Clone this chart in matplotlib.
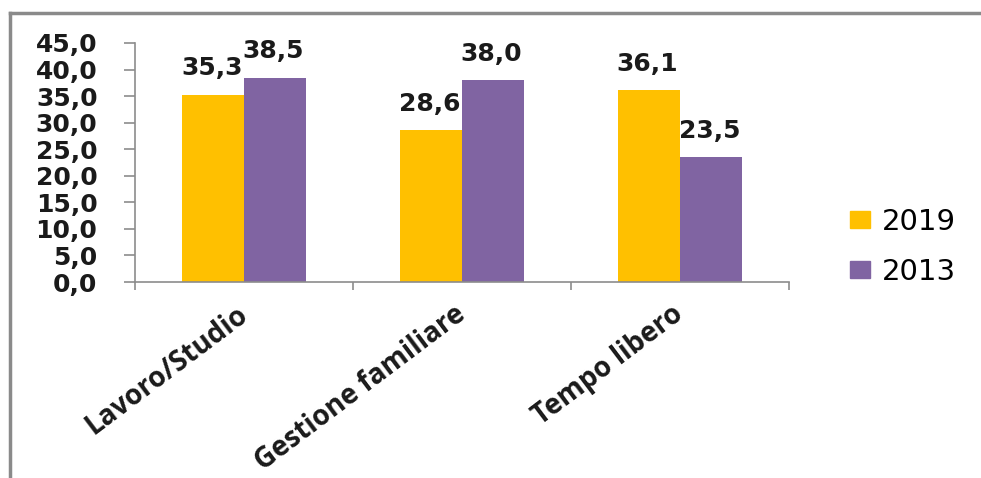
import matplotlib
matplotlib.use("Agg")
import matplotlib.pyplot as plt
import matplotlib.transforms as mtransforms
from matplotlib.lines import Line2D
from matplotlib.patches import Patch
import numpy as np

categories = ["Lavoro/Studio", "Gestione familiare", "Tempo libero"]
series_names = ["2019", "2013"]
values_2019 = [35.3, 28.6, 36.1]
values_2013 = [38.5, 38.0, 23.5]
yticks = [0, 5, 10, 15, 20, 25, 30, 35, 40, 45]
colors = ["#FFC000", "#8064A2"]

W, H = 981, 478
fig = plt.figure(figsize=(W / 100, H / 100), dpi=100)
ax = fig.add_axes([135 / W, 1 - 282 / H, (789 - 135) / W, (282 - 43) / H])

x = np.arange(len(categories))
bw = 0.284
b1 = ax.bar(x - bw / 2, values_2019, bw, color=colors[0], zorder=2)
b2 = ax.bar(x + bw / 2, values_2013, bw, color=colors[1], zorder=2)

for bars, vals in ((b1, values_2019), (b2, values_2013)):
    for rect, v in zip(bars, vals):
        ax.annotate(f"{v:.1f}".replace(".", ","),
                    (rect.get_x() + rect.get_width() / 2, v),
                    xytext=(-1, 19), textcoords="offset points",
                    ha="center", va="center", fontsize=18, fontweight="bold",
                    family="DejaVu Sans", color="#1a1a1a")

ax.set_xlim(-0.5, len(categories) - 0.5)
ax.set_ylim(0, 45)
ax.set_yticks(yticks)
ax.set_yticklabels([f"{t:.1f}".replace(".", ",") for t in yticks],
                   fontsize=18, fontweight="bold", family="DejaVu Sans", color="#1a1a1a")
ax.tick_params(axis="y", direction="out", length=8, width=1.2, color="#8c8c8c", pad=19)

ax.set_xticks(np.arange(-0.5, len(categories), 1.0))
ax.set_xticklabels([])
ax.tick_params(axis="x", direction="out", length=6, width=1.2, color="#8c8c8c")
ax.set_xticks(x, minor=True)
ax.set_xticklabels(categories, minor=True, rotation=37, ha="right", va="top",
                   rotation_mode="anchor", fontsize=20, fontweight="bold",
                   family="Open Sans", color="#1a1a1a")
ax.tick_params(axis="x", which="minor", length=0, pad=13)
shift = mtransforms.ScaledTranslation(-6 / 72, 0, fig.dpi_scale_trans)
for lbl in ax.get_xticklabels(minor=True):
    lbl.set_transform(lbl.get_transform() + shift)

for s in ("top", "right"):
    ax.spines[s].set_visible(False)
for s in ("left", "bottom"):
    ax.spines[s].set_color("#8c8c8c")
    ax.spines[s].set_linewidth(1.2)

handles = [Patch(facecolor=c, edgecolor=c) for c in colors]
fig.legend(handles, series_names, loc="center left",
           bbox_to_anchor=(850 / W, 1 - 247 / H), frameon=False,
           handlelength=0.7, handleheight=0.5, borderaxespad=0,
           handletextpad=0.4, labelspacing=0.75, borderpad=0,
           prop={"family": "DejaVu Sans", "size": 21})

# outer border (left and top)
fig.add_artist(Line2D([10 / W, 10 / W], [0, 1 - 13 / H], transform=fig.transFigure,
                      color="#8a8a8a", lw=2.5))
fig.add_artist(Line2D([10 / W, 1], [1 - 13 / H, 1 - 13 / H], transform=fig.transFigure,
                      color="#8a8a8a", lw=2.5))

fig.savefig("out.png", dpi=100)
